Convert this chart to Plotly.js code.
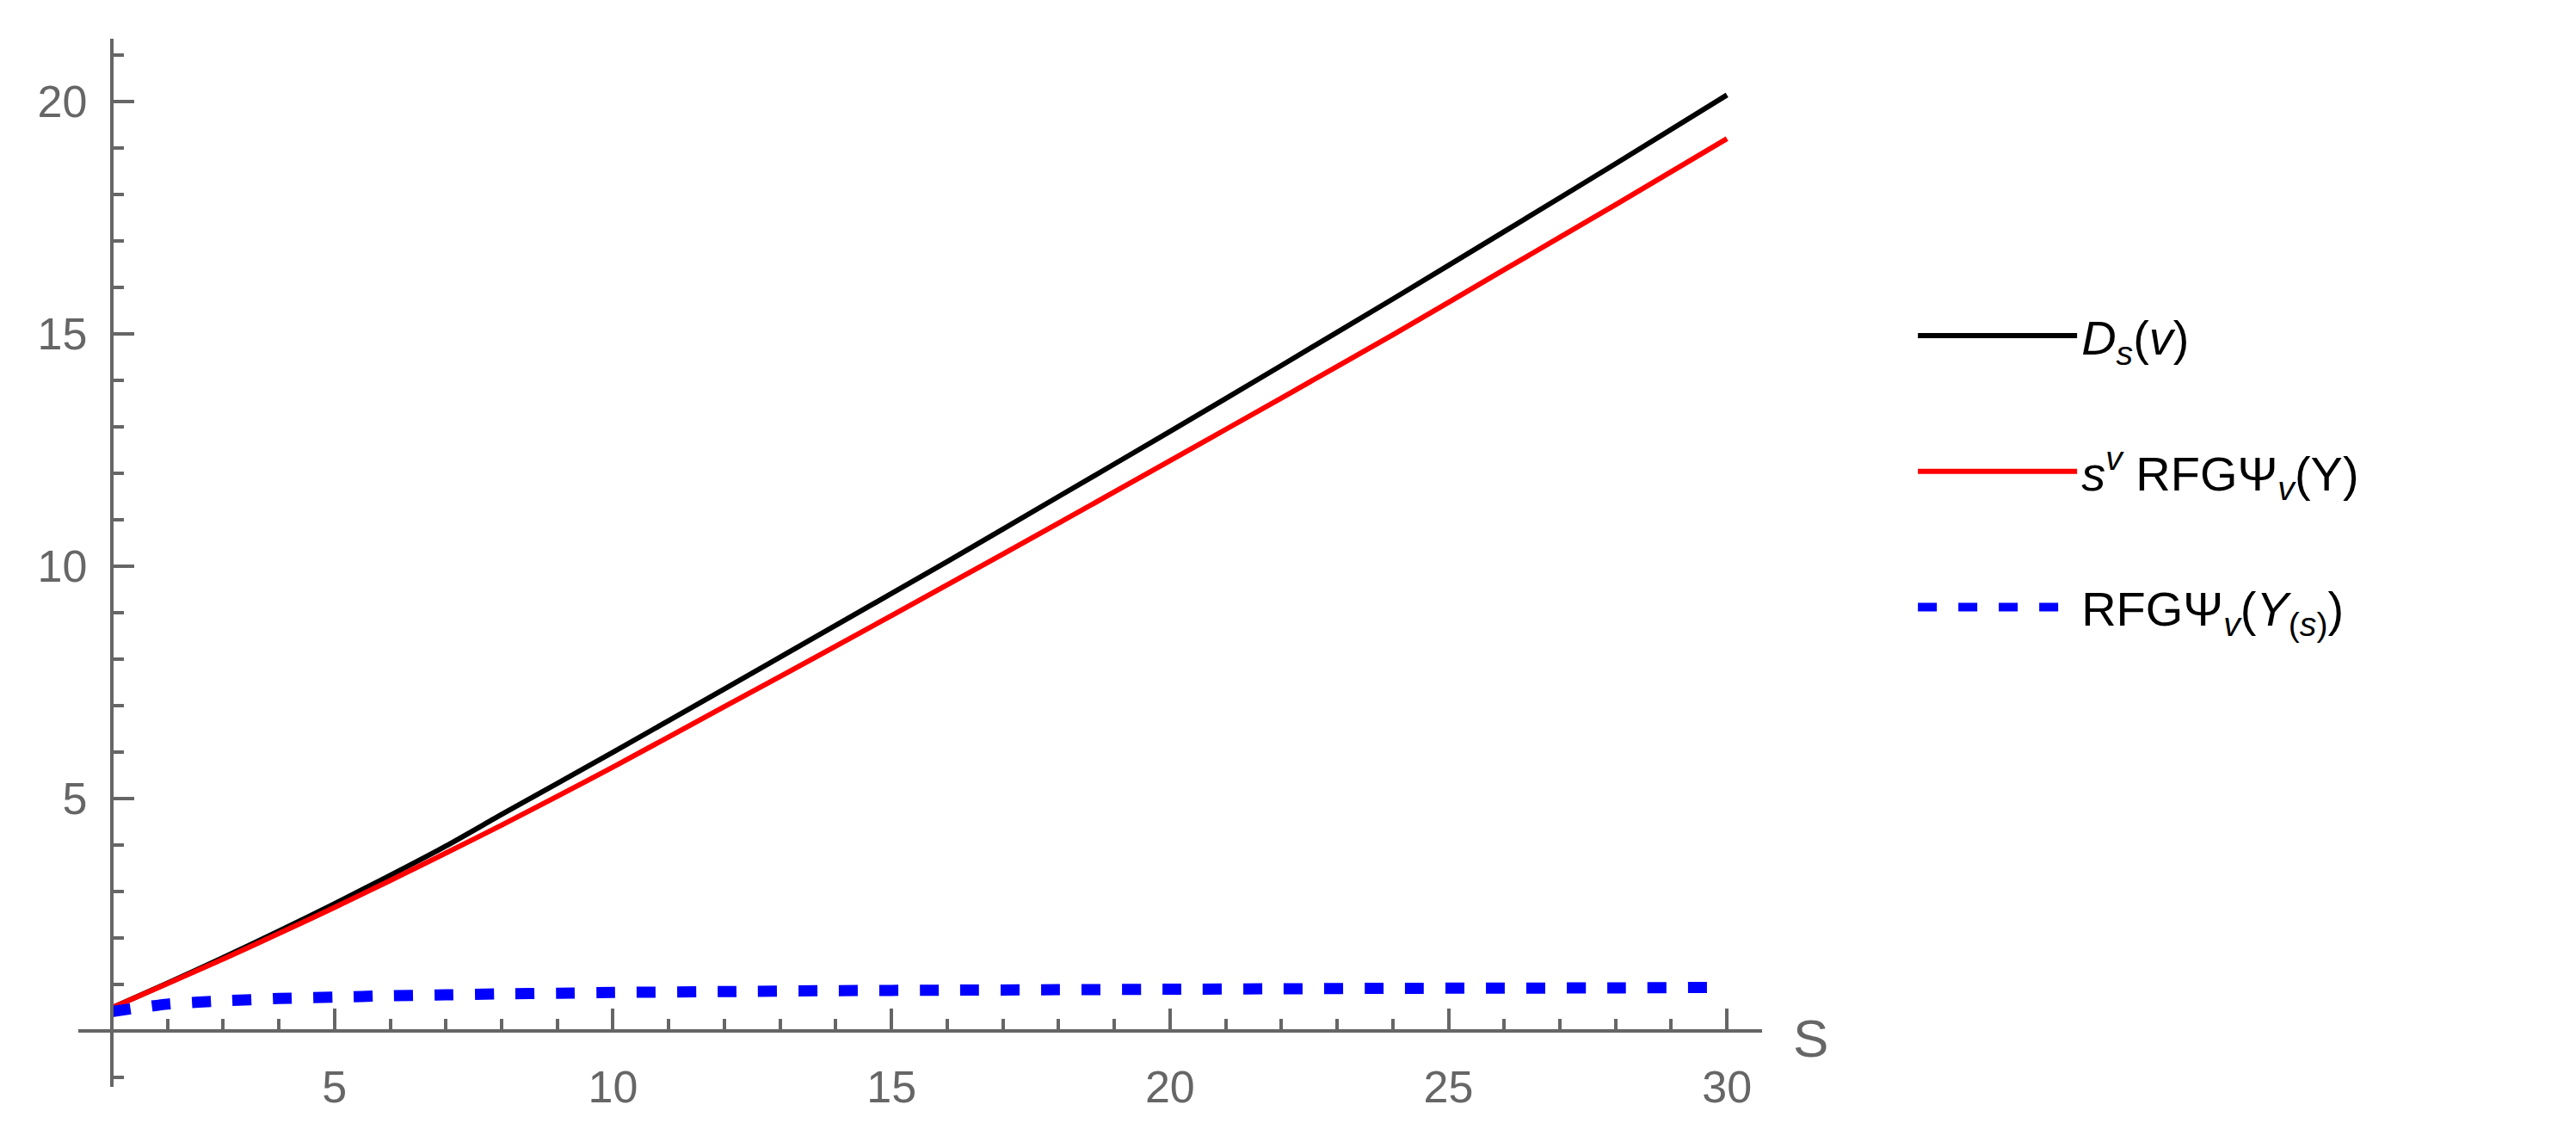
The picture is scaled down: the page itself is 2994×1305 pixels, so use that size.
<!DOCTYPE html>
<html>
<head>
<meta charset="utf-8">
<script src="https://cdn.plot.ly/plotly-3.0.1.min.js"></script>
<style>html,body{margin:0;padding:0;background:#fff;}#chart{width:2994px;height:1305px;}</style>
</head>
<body>
<div id="chart"></div>
<script>
// Data
const sValues = [1, 2, 3, 4, 5, 6, 7, 8, 9, 10, 12, 14, 16, 18, 20, 22, 24, 26, 28, 30];
const dsValues = [0.5, 1.03, 1.58, 2.15, 2.74, 3.35, 3.98, 4.66, 5.33, 6.0, 7.36, 8.73, 10.1, 11.5, 12.9, 14.32, 15.75, 17.2, 18.66, 20.14];
const rfgScaledValues = [0.5, 1.02, 1.55, 2.1, 2.66, 3.24, 3.83, 4.43, 5.05, 5.68, 6.98, 8.28, 9.6, 10.93, 12.27, 13.62, 14.98, 16.38, 17.78, 19.2];
const rfgSampleValues = [0.42, 0.58, 0.65, 0.7, 0.73, 0.76, 0.78, 0.8, 0.815, 0.83, 0.85, 0.87, 0.88, 0.89, 0.9, 0.91, 0.92, 0.925, 0.93, 0.94];
const seriesNames = [
  "<i>D</i><sub><i>s</i></sub>(<i>v</i>)",
  "<i>s</i><sup><i>v</i></sup> RFGΨ<sub><i>v</i></sub>(Y)",
  "RFGΨ<sub><i>v</i></sub>(<i>Y</i><sub>(<i>s</i>)</sub>)"
];
const xTickVals = [5, 10, 15, 20, 25, 30];
const yTickVals = [5, 10, 15, 20];
const xAxisLabel = "S";

const xRange = [0.4, 30.63];
const yRange = [-1.2, 21.35];
const axisGray = '#666666';
const tickFont = {family: 'Liberation Sans, Arial, sans-serif', size: 52, color: '#666666'};

const traces = [
  {x: sValues, y: dsValues, name: seriesNames[0], mode: 'lines', legendgroup: 'a',
   line: {color: '#000000', width: 6, shape: 'spline', smoothing: 0.6}},
  {x: sValues, y: rfgScaledValues, name: seriesNames[1], mode: 'lines', legendgroup: 'b',
   line: {color: '#ff0000', width: 6, shape: 'spline', smoothing: 0.6}},
  {x: sValues, y: rfgSampleValues, name: seriesNames[2], mode: 'lines', legendgroup: 'c',
   line: {color: '#0000ff', width: 13, dash: '22px,25px', shape: 'spline', smoothing: 0.6}}
];

const layout = {
  width: 2994, height: 1305,
  margin: {l: 91, r: 946, t: 45, b: 42},
  paper_bgcolor: '#ffffff', plot_bgcolor: '#ffffff',
  showlegend: true,
  legend: {
    x: 1.09, y: 0.752, xanchor: 'left', yanchor: 'top',
    font: {family: 'Liberation Sans, Arial, sans-serif', size: 56, color: '#000000'},
    itemwidth: 185, tracegroupgap: 82, bgcolor: 'rgba(0,0,0,0)'
  },
  xaxis: {
    range: xRange, anchor: 'free', position: (0 - yRange[0]) / (yRange[1] - yRange[0]),
    showgrid: false, zeroline: false, showline: true, linecolor: axisGray, linewidth: 4,
    tickmode: 'array', tickvals: xTickVals, ticks: 'inside', ticklen: 24, tickwidth: 4, tickcolor: axisGray,
    minor: {tickmode: 'linear', tick0: 0, dtick: 1, ticks: 'inside', ticklen: 12, tickwidth: 4, tickcolor: axisGray, showgrid: false},
    tickfont: tickFont, ticklabelstandoff: 18
  },
  yaxis: {
    range: yRange, anchor: 'free', position: (1 - xRange[0]) / (xRange[1] - xRange[0]),
    showgrid: false, zeroline: false, showline: true, linecolor: axisGray, linewidth: 4,
    tickmode: 'array', tickvals: yTickVals, ticks: 'inside', ticklen: 24, tickwidth: 4, tickcolor: axisGray,
    minor: {tickmode: 'linear', tick0: 0, dtick: 1, ticks: 'inside', ticklen: 12, tickwidth: 4, tickcolor: axisGray, showgrid: false},
    tickfont: tickFont, ticklabelstandoff: 16
  },
  annotations: [{
    xref: 'paper', yref: 'y', x: 1, y: 0, xanchor: 'left', yanchor: 'middle',
    xshift: 34, yshift: -8, showarrow: false, text: xAxisLabel,
    font: {family: 'Liberation Sans, Arial, sans-serif', size: 62, color: '#666666'}
  }]
};

Plotly.newPlot('chart', traces, layout, {staticPlot: true, displayModeBar: false});
</script>
</body>
</html>
